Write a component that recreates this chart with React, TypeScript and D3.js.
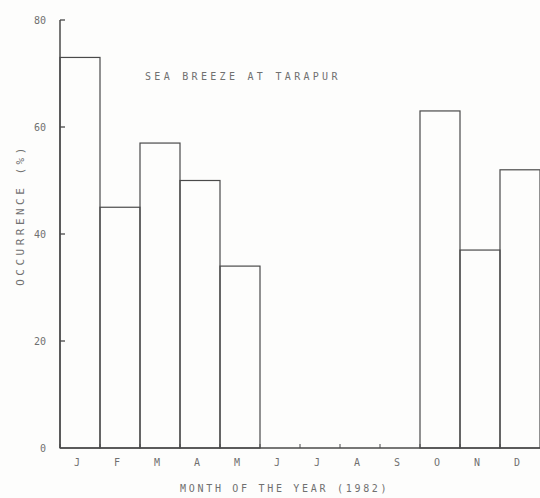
import React from "react";
import * as d3 from "d3";

const months = ["J", "F", "M", "A", "M", "J", "J", "A", "S", "O", "N", "D"];
const occurrence = [73, 45, 57, 50, 34, 0, 0, 0, 0, 63, 37, 52];
const yTicks = [0, 20, 40, 60, 80];

const W = 540;
const H = 498;
const left = 60;
const right = 540;
const top = 20;
const bottom = 448;

export default function App() {
  const x = d3
    .scaleBand<number>()
    .domain(d3.range(months.length))
    .range([left, right])
    .paddingInner(0)
    .paddingOuter(0);
  const y = d3.scaleLinear().domain([0, 80]).range([bottom, top]);
  const lineColor = "#4a4a4a";
  const textColor = "#707070";
  const font = "'DejaVu Sans Mono', 'Liberation Mono', monospace";

  return (
    <svg
      width={W}
      height={H}
      style={{ position: "absolute", left: 0, top: 0, background: "#fdfdfc" }}
    >
      <rect x={0} y={0} width={W} height={H} fill="#fdfdfc" />
      {/* bars */}
      {occurrence.map((v, i) =>
        v > 0 ? (
          <rect
            key={i}
            x={x(i)!}
            y={y(v)}
            width={x.bandwidth()}
            height={y(0) - y(v)}
            fill="none"
            stroke={lineColor}
            strokeWidth={1.2}
          />
        ) : null
      )}
      {/* y axis */}
      <line x1={left} x2={left} y1={y(80)} y2={y(0)} stroke={lineColor} strokeWidth={1.5} />
      {yTicks.map((t) => (
        <g key={t}>
          {t > 0 && (
            <line x1={left} x2={left + 5} y1={y(t)} y2={y(t)} stroke={lineColor} strokeWidth={1.3} />
          )}
          <text
            x={left - 14}
            y={y(t)}
            dy="0.35em"
            textAnchor="end"
            fontSize={10}
            fontFamily={font}
            fill={textColor}
          >
            {t}
          </text>
        </g>
      ))}
      {/* x axis */}
      <line x1={left} x2={right} y1={y(0)} y2={y(0)} stroke={lineColor} strokeWidth={1.5} />
      {months.map((m, i) => (
        <g key={i}>
          <line
            x1={x(i)!}
            x2={x(i)!}
            y1={y(0)}
            y2={y(0) - 4}
            stroke={lineColor}
            strokeWidth={1}
          />
          <text
            x={x(i)! + x.bandwidth() / 2 - 3}
            y={y(0) + 18}
            textAnchor="middle"
            fontSize={10}
            fontFamily={font}
            fill={textColor}
          >
            {m}
          </text>
        </g>
      ))}
      {/* title */}
      <text
        x={145}
        y={80}
        fontSize={10}
        fontFamily={font}
        fill={textColor}
        letterSpacing={3.3}
      >
        SEA BREEZE AT TARAPUR
      </text>
      {/* y label */}
      <text
        transform={`translate(24, 215) rotate(-90)`}
        textAnchor="middle"
        fontSize={11}
        fontFamily={font}
        fill={textColor}
        letterSpacing={3.5}
      >
        OCCURRENCE (%)
      </text>
      {/* x label */}
      <text
        x={180}
        y={492}
        fontSize={10}
        fontFamily={font}
        fill={textColor}
        letterSpacing={2.7}
      >
        MONTH OF THE YEAR (1982)
      </text>
    </svg>
  );
}
